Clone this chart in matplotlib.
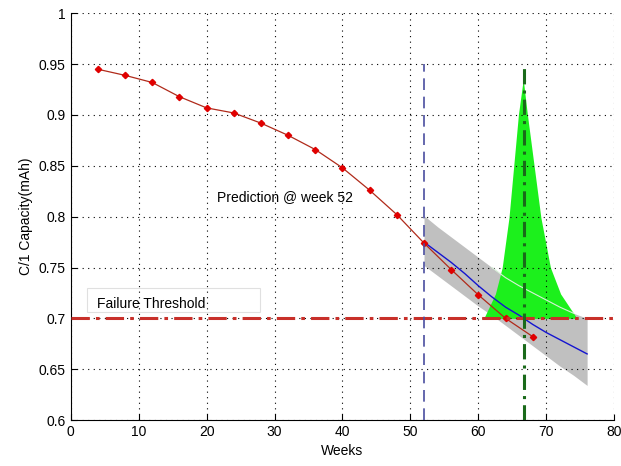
import numpy as np
import matplotlib.pyplot as plt
from matplotlib.patches import Rectangle
from matplotlib.ticker import FormatStrFormatter

plt.rcParams['font.family'] = ['Liberation Sans', 'DejaVu Sans']

# measured capacity (red diamonds)
weeks = [4, 8, 12, 16, 20, 24, 28, 32, 36, 40, 44, 48, 52, 56, 60, 64, 68]
capacity = [0.945, 0.939, 0.932, 0.918, 0.907, 0.902, 0.892, 0.880, 0.866,
            0.848, 0.826, 0.802, 0.774, 0.748, 0.723, 0.700, 0.682]

# prediction from week 52 (blue mean + gray bounds)
pred_weeks = [52, 54, 56, 58, 60, 62, 64, 66, 68, 70, 72, 74, 76]
pred_mean = [0.775, 0.765, 0.755, 0.744, 0.732, 0.721, 0.711, 0.703,
             0.694, 0.686, 0.679, 0.672, 0.665]
pred_upper = [0.801, 0.790, 0.780, 0.770, 0.760, 0.750, 0.740, 0.732,
              0.725, 0.718, 0.711, 0.705, 0.700]
pred_lower = [0.752, 0.742, 0.732, 0.722, 0.712, 0.703, 0.693, 0.683,
              0.673, 0.663, 0.653, 0.644, 0.634]

# end-of-life pdf (green), drawn on top of the threshold
pdf_weeks = [60.8, 62.5, 63.5, 64.5, 65.2, 65.9, 66.6, 67.2, 68.2, 69.2, 70.6, 72.1, 74.5]
pdf_top = [0.700, 0.724, 0.750, 0.799, 0.850, 0.901, 0.935, 0.901, 0.850,
           0.799, 0.750, 0.724, 0.700]

threshold = 0.7
pred_week = 52
eol_week = 66.7

fig = plt.figure(figsize=(6.21, 4.66), dpi=100)
ax = fig.add_axes([0.1138, 0.0987, 0.8754, 0.8727])

ax.fill_between(pred_weeks, pred_lower, pred_upper, color='#c0c0c0', lw=0, zorder=1)
ax.fill_between(pdf_weeks, threshold, pdf_top, color='#1cf01c', lw=0, zorder=2)

# faint upper bound line seen through the green
up = np.array(pred_upper)
pw = np.array(pred_weeks)
m = (pw >= 62) & (pw <= 74)
ax.plot(pw[m], up[m], color='#d8f0d8', lw=0.8, zorder=3)

ax.plot(pred_weeks, pred_mean, color='#1414d0', lw=1.0, zorder=4)
ax.plot(weeks, capacity, color='#b02a1a', lw=0.9, marker='D', ms=3.2,
        mfc='#e00000', mec='#e00000', zorder=5)

ax.axhline(threshold, color='#c8302a', lw=2.2, ls=(0, (6, 2, 1.2, 2)), zorder=6)
ax.plot([pred_week, pred_week], [0.6, 0.95], color='#4a4ea0', lw=1.2,
        ls=(0, (7, 4)), zorder=6)
ax.plot([eol_week, eol_week], [0.6, 0.95], color='#1a6a1a', lw=2.2,
        ls=(0, (5, 2, 1, 2)), zorder=7)

ax.text(21.6, 0.819, 'Prediction @ week 52', fontsize=10, va='center', zorder=8)
ax.add_patch(Rectangle((2.35, 0.706), 25.5, 0.024, facecolor='white',
                       edgecolor='#e0e0e0', lw=0.8, zorder=0.5))
ax.text(3.9, 0.714, 'Failure Threshold', fontsize=10, va='center', zorder=8)

ax.set_xlim(0, 80)
ax.set_ylim(0.6, 1.0)
ax.set_xticks(range(0, 81, 10))
ax.set_yticks(np.arange(0.6, 1.001, 0.05))
ax.yaxis.set_major_formatter(FormatStrFormatter('%g'))
ax.tick_params(direction='in', labelsize=10, length=4, width=0.8)
ax.grid(True, color='black', ls=(0, (1, 4)), lw=0.8)
ax.set_axisbelow(False)
for g in ax.get_xgridlines() + ax.get_ygridlines():
    g.set_zorder(3.5)
ax.spines['top'].set_visible(False)
ax.spines['right'].set_visible(False)
ax.set_xlabel('Weeks', fontsize=10)
ax.set_ylabel('C/1 Capacity(mAh)', fontsize=10)

fig.savefig('out.png', dpi=100)
